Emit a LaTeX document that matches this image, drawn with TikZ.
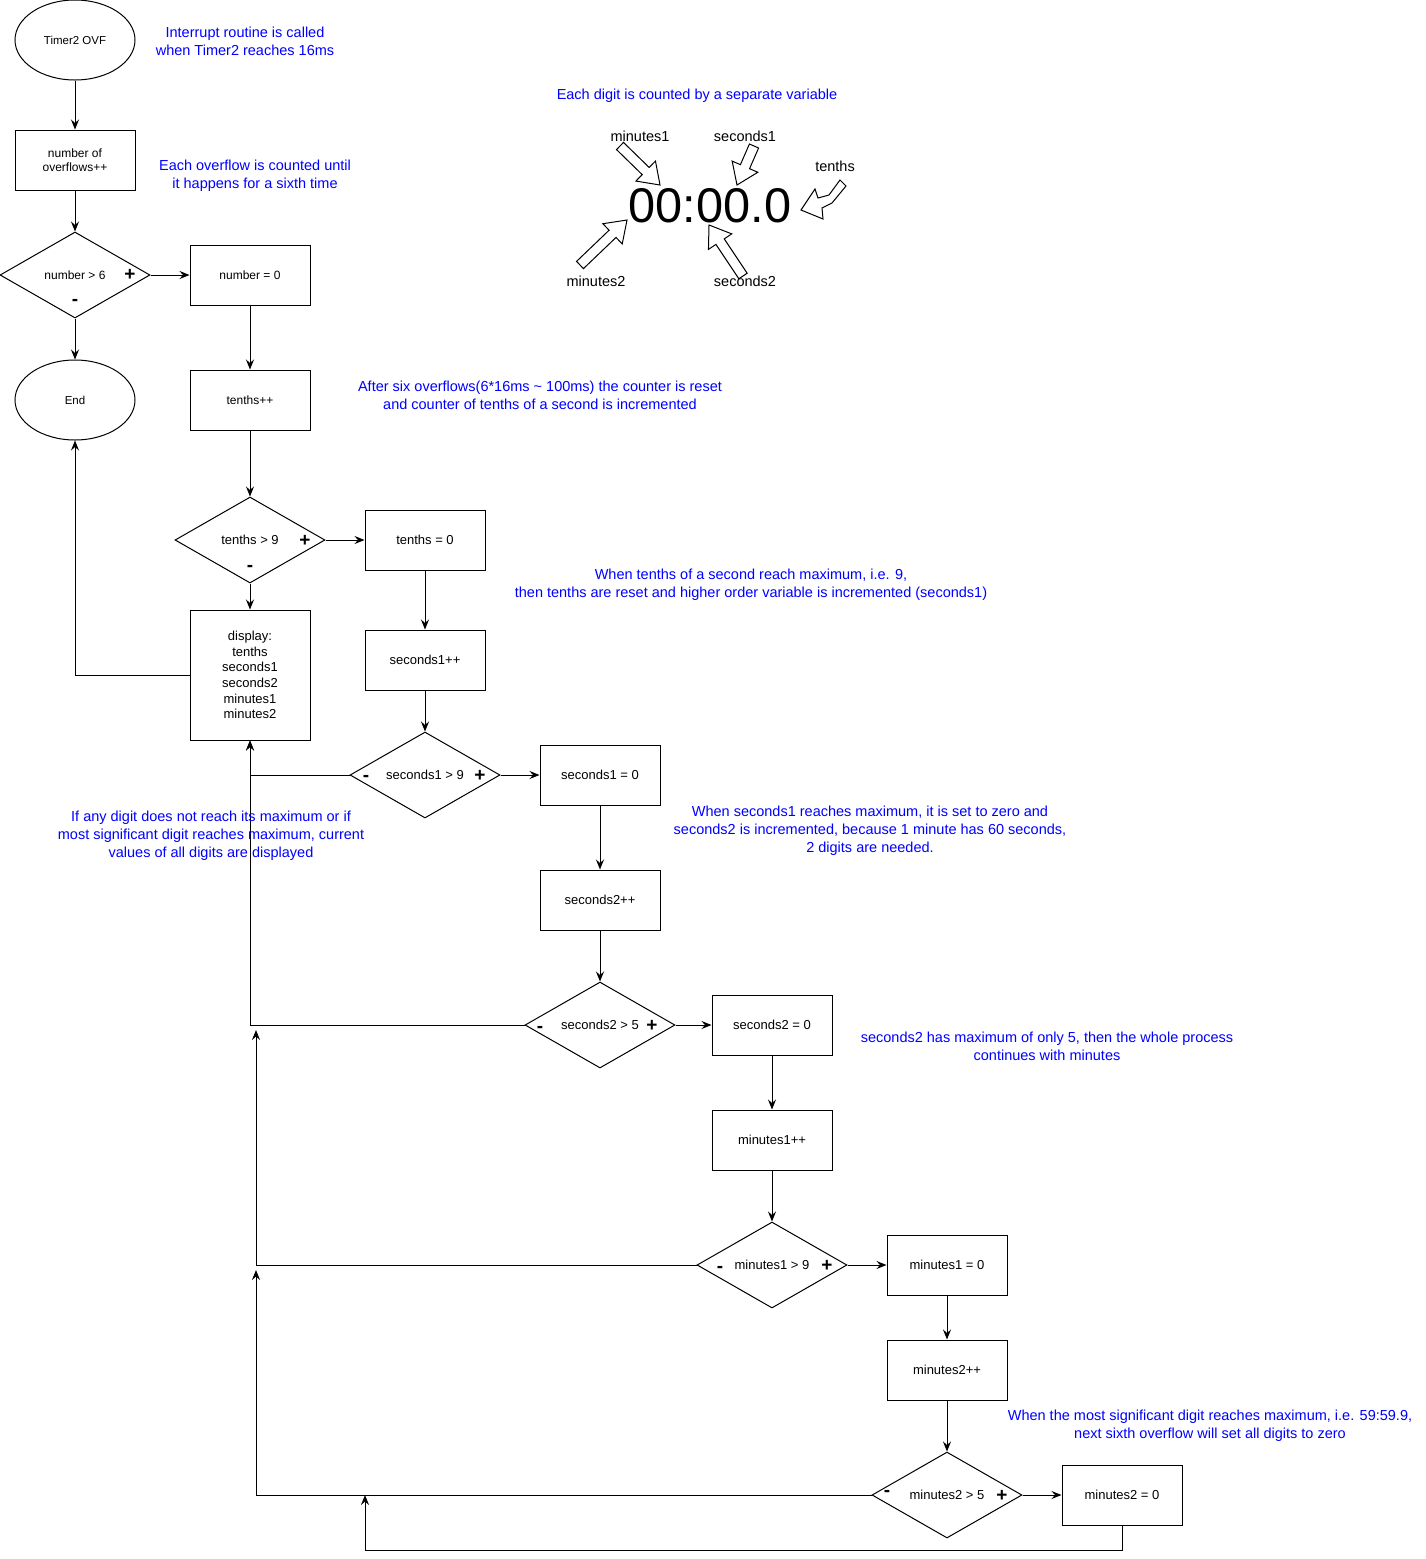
\documentclass[tikz,border=0pt]{standalone}
\usepackage{fontspec}
\setmainfont{Liberation Sans}
\usetikzlibrary{shapes.geometric,arrows.meta,calc}
\tikzset{
  base/.style={line width=1pt},
  box/.style={draw, base, minimum width=120pt, minimum height=60pt, inner sep=0pt, align=center, font=\fontsize{13}{15.6}\selectfont},
  sbox/.style={box, font=\fontsize{12}{14.4}\selectfont},
  oval/.style={draw, base, ellipse, minimum width=120pt, minimum height=80pt, inner sep=0pt, font=\fontsize{11.5}{13}\selectfont},
  dec/.style={draw, base, diamond, aspect=1.75, minimum width=150pt, minimum height=86pt, inner sep=0pt, font=\fontsize{13}{15}\selectfont},
  note/.style={text=blue, align=center, font=\fontsize{14.5}{18}\selectfont},
  lab/.style={font=\fontsize{14.5}{17}\selectfont},
  sign/.style={font=\fontsize{19}{19}\bfseries\selectfont, inner sep=0pt},
  flow/.style={base, -{Stealth[length=10pt,width=8pt,inset=3.5pt]}},
  blk/.style={base, fill=white, line join=miter}
}
\newcommand{\blockarr}[2]{%
  \coordinate (BT) at #1; \coordinate (BH) at #2;
  \coordinate (BC) at ($(BH)!20pt!(BT)$);
  \draw[blk] ($(BT)!5pt!90:(BH)$) -- ($(BC)!5pt!90:(BH)$) -- ($(BC)!14pt!90:(BH)$) -- (BH)
    -- ($(BC)!14pt!-90:(BH)$) -- ($(BC)!5pt!-90:(BH)$) -- ($(BT)!5pt!-90:(BH)$) -- cycle;}
\begin{document}
\begin{tikzpicture}[x=1pt, y=-1pt]
\useasboundingbox (0,0) rectangle (1426,1559);

% nodes
\node[oval] (start) at (75,40) {Timer2 OVF};
\node[sbox] (ovf) at (75,160) {number of\\overflows++};
\node[dec, font=\fontsize{12}{14}\selectfont] (d1) at (75,275) {number > 6};
\node[sbox] (nz) at (250,275) {number = 0};
\node[oval] (end) at (75,400) {End};
\node[sbox] (tpp) at (250,400) {tenths++};
\node[dec] (d2) at (250,540) {tenths > 9};
\node[box] (tz) at (425,540) {tenths = 0};
\node[box, minimum height=130pt] (disp) at (250,675) {display:\\tenths\\seconds1\\seconds2\\minutes1\\minutes2};
\node[box] (s1pp) at (425,660) {seconds1++};
\node[dec] (d3) at (425,775) {seconds1 > 9};
\node[box] (s1z) at (600,775) {seconds1 = 0};
\node[box] (s2pp) at (600,900) {seconds2++};
\node[dec] (d4) at (600,1025) {seconds2 > 5};
\node[box] (s2z) at (772,1025) {seconds2 = 0};
\node[box] (m1pp) at (772,1140) {minutes1++};
\node[dec] (d5) at (772,1265) {minutes1 > 9};
\node[box] (m1z) at (947,1265) {minutes1 = 0};
\node[box] (m2pp) at (947,1370) {minutes2++};
\node[dec] (d6) at (947,1495) {minutes2 > 5};
\node[box] (m2z) at (1122,1495) {minutes2 = 0};

% signs
\node[sign] (p1) at (130,275) {+};
\node[sign] (n1) at (75,302) {-};
\node[sign] (p2) at (305,541) {+};
\node[sign] (n2) at (250,568) {-};
\node[sign] (n3) at (366,778) {-};
\node[sign] (p3) at (480,776) {+};
\node[sign] (n4) at (540,1029) {-};
\node[sign] (p4) at (652,1026) {+};
\node[sign] (n5) at (720,1269) {-};
\node[sign] (p5) at (827,1266) {+};
\node[sign] (n6) at (887,1493) {-};
\node[sign] (p6) at (1002,1496) {+};

% junction coordinates
\coordinate (j1) at (256,1030);
\coordinate (j2) at (256,1270);
\coordinate (j3) at (365,1495);
\coordinate (lc) at (365,1550);

% connectors
\draw[flow] (start) -- (ovf);
\draw[flow] (ovf) -- (d1.north);
\draw[flow] (d1.east) -- (nz);
\draw[flow] (d1.south) -- (end);
\draw[flow] (nz) -- (tpp);
\draw[flow] (tpp) -- (d2.north);
\draw[flow] (d2.east) -- (tz);
\draw[flow] (d2.south) -- (disp);
\draw[flow] (disp.west) -| (end.south);
\draw[flow] (tz) -- (s1pp);
\draw[flow] (s1pp) -- (d3.north);
\draw[flow] (d3.east) -- (s1z);
\draw[flow] (d3.west) -| (disp.south);
\draw[flow] (s1z) -- (s2pp);
\draw[flow] (s2pp) -- (d4.north);
\draw[flow] (d4.east) -- (s2z);
\draw[flow] (d4.west) -| (disp.south);
\draw[flow] (s2z) -- (m1pp);
\draw[flow] (m1pp) -- (d5.north);
\draw[flow] (d5.east) -- (m1z);
\draw[flow] (d5.west) -| (j1);
\draw[flow] (m1z) -- (m2pp);
\draw[flow] (m2pp) -- (d6.north);
\draw[flow] (d6.east) -- (m2z);
\draw[flow] (d6.west) -| (j2);
\draw[flow] (m2z.south) |- (lc) -- (j3);

% notes
\node[note] (t1) at (245,41) {Interrupt routine is called\\when Timer2 reaches 16ms};
\node[note] (t2) at (255,176) {Each overflow is counted until\\it happens for a sixth time};
\node[note] (t3) at (697,96) {Each digit is counted by a separate variable};
\node[note] (t4) at (540,395) {After six overflows(6*16ms \textasciitilde\ 100ms) the counter is reset\\and counter of tenths of a second is incremented};
\node[note] (t5) at (751,585) {When tenths of a second reach maximum, i.e. 9,\\then tenths are reset and higher order variable is incremented (seconds1)};
\node[note] (t6) at (211,836) {If any digit does not reach its maximum or if\\most significant digit reaches maximum, current\\values of all digits are displayed};
\node[note] (t7) at (870,831) {When seconds1 reaches maximum, it is set to zero and\\seconds2 is incremented, because 1 minute has 60 seconds,\\2 digits are needed.};
\node[note] (t8) at (1047,1046) {seconds2 has maximum of only 5, then the whole process\\continues with minutes};
\node[note] (t9) at (1210,1426) {When the most significant digit reaches maximum, i.e. 59:59.9,\\next sixth overflow will set all digits to zero};

% clock
\node[font=\fontsize{48.7}{50}\selectfont, inner sep=0pt] (clock) at (710,206) {00:00.0};
\node[lab] (lm1) at (640,136) {minutes1};
\node[lab] (ls1) at (745,136) {seconds1};
\node[lab] (lt) at (835,166) {tenths};
\node[lab] (lm2) at (596,281) {minutes2};
\node[lab] (ls2) at (745,281) {seconds2};

\blockarr{(620,146)}{(660,185)}
\blockarr{(754,146)}{(737,185)}
\blockarr{(580,265)}{(627,220)}
\blockarr{(743,276)}{(709,225)}
\draw[blk] (840,180) -- (829,195) -- (818,198) -- (815,189) -- (801,210) -- (823,219) -- (822,208) -- (832,203) -- (846,186) -- cycle;
\end{tikzpicture}
\end{document}
